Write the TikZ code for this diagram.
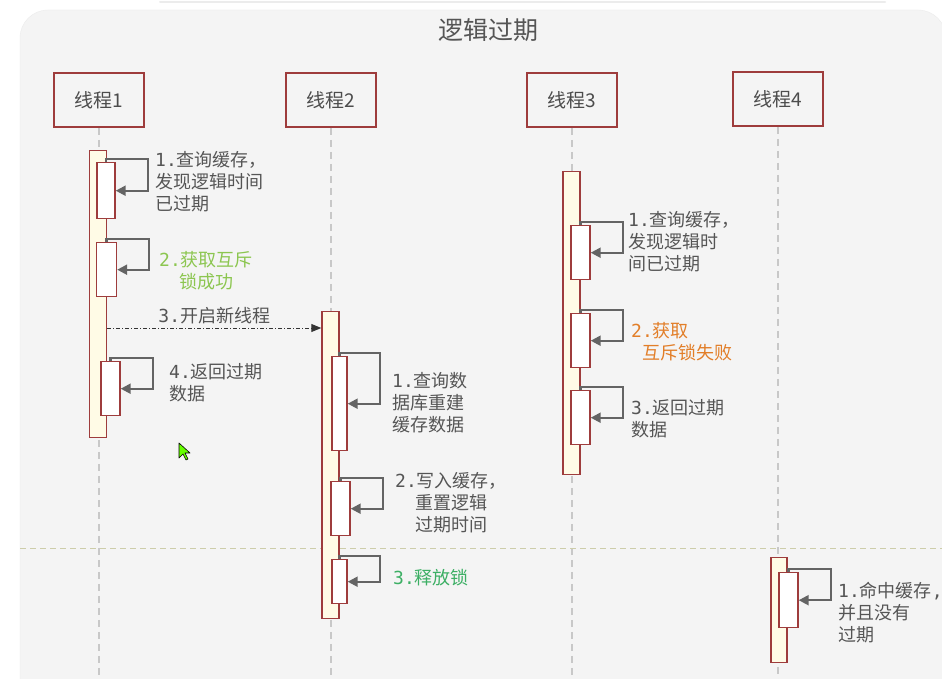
\documentclass[tikz,border=0pt]{standalone}
\usepackage{fontspec}
\setmainfont{Noto Sans CJK SC}
\newfontfamily\monofont{DejaVu Sans Mono}
\usepackage{tikz}
\usetikzlibrary{arrows.meta}
\definecolor{boxred}{RGB}{158,60,60}
\definecolor{textgrey}{RGB}{85,85,85}
\definecolor{arrowgrey}{RGB}{100,100,100}
\definecolor{lifegrey}{RGB}{200,200,200}
\definecolor{actfill}{RGB}{255,251,230}
\definecolor{panelgrey}{RGB}{244,244,244}
\definecolor{sepcol}{RGB}{205,205,170}
\definecolor{okgreen}{RGB}{140,198,80}
\definecolor{failorange}{RGB}{226,126,40}
\definecolor{relgreen}{RGB}{60,175,100}

\begin{document}
\begin{tikzpicture}[x=1pt, y=-1pt,
    head/.style={draw=boxred, line width=1.6pt, minimum width=90pt, minimum height=54pt, inner sep=0pt, text=black!70, font=\fontsize{19}{22}\selectfont},
    act/.style={draw=boxred, fill=actfill, line width=1.4pt, minimum width=17pt, inner sep=0pt, anchor=north},
    sub/.style={draw=boxred, fill=white, line width=1.4pt, minimum width=19pt, inner sep=0pt, anchor=north},
    life/.style={lifegrey, line width=1.4pt, dash pattern=on 7pt off 5pt},
    selfarr/.style={arrowgrey, line width=2.2pt, -{Triangle[length=10pt,width=10pt]}},
    msg/.style={black!80, line width=1pt, dash pattern=on 4pt off 2pt on 1pt off 2pt, -{Triangle[length=10pt,width=8pt]}},
    note/.style={anchor=north west, inner sep=0pt, align=left, text=textgrey, font=\fontsize{18}{22}\selectfont}]
    \fill[white] (0,0) rectangle (942,679);
    \useasboundingbox (0,0) rectangle (942,679);
    \draw[gray!15, line width=2pt, line cap=round] (160,2) -- (885,2);
    \filldraw[fill=panelgrey, draw=gray!15, rounded corners=28pt] (20,10) rectangle (946,720);
    \node[text=textgrey, font=\fontsize{25}{28}\selectfont] (title) at (488,30) {逻辑过期};

    \node[head] (h1) at (99,100) {线程1};
    \node[head] (h2) at (331,100) {线程2};
    \node[head] (h3) at (572,100) {线程3};
    \node[head] (h4) at (778,99) {线程4};
    \coordinate (bot) at (0,679);
    \foreach \h in {h1,h2,h3,h4}
        \draw[life] (\h.south) -- (\h.south |- bot);
    \draw[sepcol, line width=1pt, dash pattern=on 6pt off 4pt] (20,548) -- (942,548);

    \node[act, minimum height=287pt] (a1) at (98,150) {};
    \node[sub, minimum height=56pt, minimum width=18pt] (s11) at (106,162) {};
    \node[sub, minimum height=54pt, minimum width=20pt] (s12) at (106.5,242) {};
    \node[sub, minimum height=54pt] (s14) at (110.5,361) {};

    \node[act, minimum height=307pt] (a2) at (330.5,311) {};
    \node[sub, minimum height=94pt, minimum width=15pt] (s21) at (339.5,356) {};
    \node[sub, minimum height=54pt] (s22) at (340.5,481) {};
    \node[sub, minimum height=44pt, minimum width=15pt] (s23) at (339.5,559) {};

    \node[act, minimum height=303pt] (a3) at (571.5,171) {};
    \node[sub, minimum height=54pt] (s31) at (580.5,225) {};
    \node[sub, minimum height=54pt] (s32) at (580.5,313) {};
    \node[sub, minimum height=54pt] (s33) at (580.5,390) {};

    \node[act, minimum height=105pt, minimum width=16pt] (a4) at (779,557) {};
    \node[sub, minimum height=55pt] (s41) at (788.5,572) {};

    \foreach \s in {s11,s12,s14,s21,s22,s23,s31,s32,s33,s41}
        \draw[selfarr] (\s.north) -- ++(0,-3) -| ([xshift=32pt]\s.east) -- (\s.east);

    \coordinate (m3) at (0,328);
    \draw[msg] (a1.east |- m3) -- node[above=3pt, text=textgrey, font=\fontsize{18}{22}\selectfont, inner sep=0pt] (l13) {{\monofont 3.}开启新线程} (a2.west |- m3);

    \node[note] (n11) at (155,151) {{\monofont 1.}查询缓存，\\发现逻辑时间\\已过期};
    \node[note, align=center, anchor=north, text=okgreen] (n12) at (206,251) {{\monofont 2.}获取互斥\\锁成功};
    \node[note] (n14) at (169,363) {{\monofont 4.}返回过期\\数据};

    \node[note] (n21) at (392,372) {{\monofont 1.}查询数\\据库重建\\缓存数据};
    \node[note, align=center] (n22) at (395,472) {{\monofont 2.}写入缓存，\\重置逻辑\\过期时间};
    \node[note, text=relgreen] (n23) at (393,569) {{\monofont 3.}释放锁};

    \node[note] (n31) at (628,211) {{\monofont 1.}查询缓存，\\发现逻辑时\\间已过期};
    \node[note, text=failorange] (n32) at (631,322) {{\monofont 2.}获取\\\hspace*{11pt}互斥锁失败};
    \node[note] (n33) at (631,399) {{\monofont 3.}返回过期\\数据};

    \node[note] (n41) at (838,582) {{\monofont 1.}命中缓存{\monofont ,}\\并且没有\\过期};

    \filldraw[fill=green!60!yellow, draw=black, line width=0.6pt, line join=round]
        (179,443) -- (179,458) -- (183,454) -- (186,460) -- (188,459) -- (185,453) -- (190,453) -- cycle;
\end{tikzpicture}
\end{document}
